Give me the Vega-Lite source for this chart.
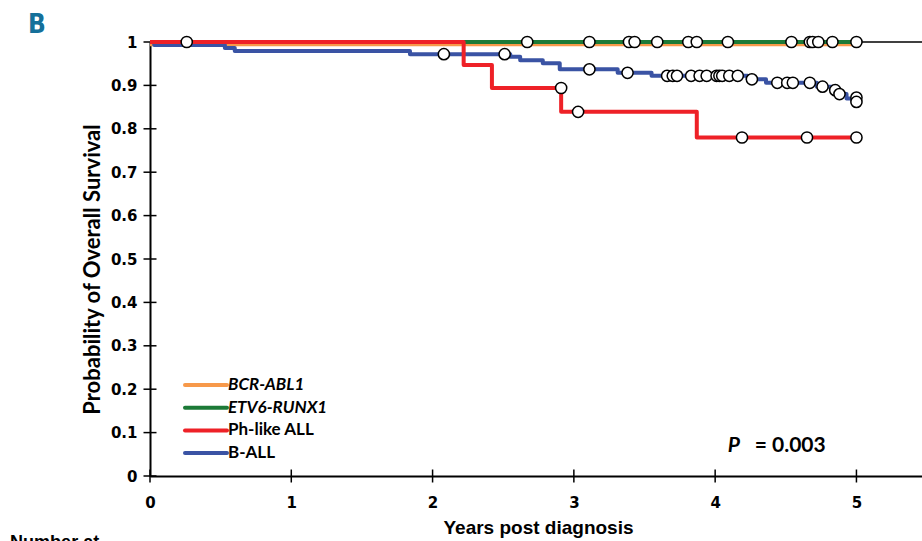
{
  "$schema": "https://vega.github.io/schema/vega-lite/v6.json",
  "autosize": {"type": "none"},
  "padding": {"left": 150, "top": 42, "right": 0, "bottom": 65},
  "width": 772,
  "height": 434,
  "background": "white",
  "title": {"text": "B", "anchor": "start", "frame": "group", "dx": -122, "dy": 26, "offset": 0, "baseline": "alphabetic", "font": "DejaVu Sans Condensed, DejaVu Sans", "fontSize": 26, "fontWeight": "bold", "color": "#15709a"},
  "config": {"view": {"stroke": null}, "font": "Lato"},
  "datasets": {
    "curves": [
      {"group": "BCR-ABL1", "t": 0, "s": 0.995},
      {"group": "BCR-ABL1", "t": 5.0, "s": 0.995},
      {"group": "ETV6-RUNX1", "t": 0, "s": 1},
      {"group": "ETV6-RUNX1", "t": 5.0, "s": 1},
      {"group": "B-ALL", "t": 0, "s": 1},
      {"group": "B-ALL", "t": 0.03, "s": 0.993},
      {"group": "B-ALL", "t": 0.53, "s": 0.986},
      {"group": "B-ALL", "t": 0.6, "s": 0.979},
      {"group": "B-ALL", "t": 1.84, "s": 0.972},
      {"group": "B-ALL", "t": 2.55, "s": 0.966},
      {"group": "B-ALL", "t": 2.62, "s": 0.958},
      {"group": "B-ALL", "t": 2.78, "s": 0.951},
      {"group": "B-ALL", "t": 2.9, "s": 0.937},
      {"group": "B-ALL", "t": 3.31, "s": 0.929},
      {"group": "B-ALL", "t": 3.55, "s": 0.922},
      {"group": "B-ALL", "t": 4.23, "s": 0.914},
      {"group": "B-ALL", "t": 4.36, "s": 0.906},
      {"group": "B-ALL", "t": 4.72, "s": 0.897},
      {"group": "B-ALL", "t": 4.83, "s": 0.889},
      {"group": "B-ALL", "t": 4.88, "s": 0.88},
      {"group": "B-ALL", "t": 4.93, "s": 0.87},
      {"group": "B-ALL", "t": 5.0, "s": 0.862},
      {"group": "Ph-like ALL", "t": 0, "s": 1},
      {"group": "Ph-like ALL", "t": 2.22, "s": 0.947},
      {"group": "Ph-like ALL", "t": 2.42, "s": 0.894},
      {"group": "Ph-like ALL", "t": 2.91, "s": 0.839},
      {"group": "Ph-like ALL", "t": 3.87, "s": 0.78},
      {"group": "Ph-like ALL", "t": 5.0, "s": 0.78}
    ],
    "censor": [
      {"group": "ETV6-RUNX1", "t": 0.26, "s": 1},
      {"group": "ETV6-RUNX1", "t": 2.67, "s": 1},
      {"group": "ETV6-RUNX1", "t": 3.11, "s": 1},
      {"group": "ETV6-RUNX1", "t": 3.39, "s": 1},
      {"group": "ETV6-RUNX1", "t": 3.43, "s": 1},
      {"group": "ETV6-RUNX1", "t": 3.59, "s": 1},
      {"group": "ETV6-RUNX1", "t": 3.81, "s": 1},
      {"group": "ETV6-RUNX1", "t": 3.87, "s": 1},
      {"group": "ETV6-RUNX1", "t": 4.09, "s": 1},
      {"group": "ETV6-RUNX1", "t": 4.54, "s": 1},
      {"group": "ETV6-RUNX1", "t": 4.67, "s": 1},
      {"group": "ETV6-RUNX1", "t": 4.69, "s": 1},
      {"group": "ETV6-RUNX1", "t": 4.73, "s": 1},
      {"group": "ETV6-RUNX1", "t": 4.83, "s": 1},
      {"group": "ETV6-RUNX1", "t": 5.0, "s": 1},
      {"group": "B-ALL", "t": 2.08, "s": 0.972},
      {"group": "B-ALL", "t": 2.51, "s": 0.972},
      {"group": "B-ALL", "t": 3.11, "s": 0.937},
      {"group": "B-ALL", "t": 3.38, "s": 0.929},
      {"group": "B-ALL", "t": 3.66, "s": 0.922},
      {"group": "B-ALL", "t": 3.7, "s": 0.922},
      {"group": "B-ALL", "t": 3.73, "s": 0.922},
      {"group": "B-ALL", "t": 3.83, "s": 0.922},
      {"group": "B-ALL", "t": 3.89, "s": 0.922},
      {"group": "B-ALL", "t": 3.94, "s": 0.922},
      {"group": "B-ALL", "t": 4.01, "s": 0.922},
      {"group": "B-ALL", "t": 4.03, "s": 0.922},
      {"group": "B-ALL", "t": 4.05, "s": 0.922},
      {"group": "B-ALL", "t": 4.1, "s": 0.922},
      {"group": "B-ALL", "t": 4.16, "s": 0.922},
      {"group": "B-ALL", "t": 4.26, "s": 0.914},
      {"group": "B-ALL", "t": 4.44, "s": 0.906},
      {"group": "B-ALL", "t": 4.51, "s": 0.906},
      {"group": "B-ALL", "t": 4.55, "s": 0.906},
      {"group": "B-ALL", "t": 4.67, "s": 0.906},
      {"group": "B-ALL", "t": 4.76, "s": 0.897},
      {"group": "B-ALL", "t": 4.85, "s": 0.889},
      {"group": "B-ALL", "t": 4.88, "s": 0.88},
      {"group": "B-ALL", "t": 5.0, "s": 0.872},
      {"group": "B-ALL", "t": 5.0, "s": 0.862},
      {"group": "Ph-like ALL", "t": 2.91, "s": 0.894},
      {"group": "Ph-like ALL", "t": 3.03, "s": 0.839},
      {"group": "Ph-like ALL", "t": 4.19, "s": 0.78},
      {"group": "Ph-like ALL", "t": 4.65, "s": 0.78},
      {"group": "Ph-like ALL", "t": 5.0, "s": 0.78}
    ],
    "yticks": [
      {"v": 0}, {"v": 0.1}, {"v": 0.2}, {"v": 0.3}, {"v": 0.4}, {"v": 0.5}, {"v": 0.6}, {"v": 0.7}, {"v": 0.8}, {"v": 0.9}, {"v": 1}
    ],
    "xticks": [
      {"v": 0}, {"v": 1}, {"v": 2}, {"v": 3}, {"v": 4}, {"v": 5}
    ],
    "pSymbol": [
      {"label": "P", "t": 4.09, "s": 0.055}
    ],
    "pValue": [
      {"label": "= 0.003", "t": 4.28, "s": 0.055}
    ],
    "risk": [
      {"label": "Number at", "t": -0.99, "s": -0.134}
    ]
  },
  "layer": [
    {
      "data": {"values": [{"s": 1}]},
      "mark": {"type": "rule", "color": "black", "strokeWidth": 1.5},
      "encoding": {"y": {"field": "s", "type": "quantitative", "scale": {"domain": [0, 1]}}}
    },
    {
      "data": {"name": "yticks"},
      "mark": {"type": "point", "shape": "M-1,0H1", "size": 169, "filled": false, "stroke": "black", "strokeWidth": 1.5, "opacity": 1, "clip": false},
      "encoding": {
        "x": {"datum": 0, "type": "quantitative"},
        "y": {"field": "v", "type": "quantitative"}
      }
    },
    {
      "data": {"name": "xticks"},
      "mark": {"type": "point", "shape": "M0,-1V1", "size": 169, "filled": false, "stroke": "black", "strokeWidth": 1.5, "opacity": 1, "clip": false},
      "encoding": {
        "x": {"field": "v", "type": "quantitative"},
        "y": {"datum": 0, "type": "quantitative"}
      }
    },
    {
      "data": {"name": "curves"},
      "mark": {"type": "line", "interpolate": "step-after", "strokeJoin": "round"},
      "encoding": {
        "x": {
          "field": "t", "type": "quantitative",
          "scale": {"domain": [0, 5.464], "nice": false, "zero": false},
          "axis": {
            "values": [0, 1, 2, 3, 4, 5], "format": "d", "grid": false, "ticks": false, "tickSize": 0,
            "domainColor": "black", "domainWidth": 2,
            "labelFont": "DejaVu Sans", "labelFontWeight": "bold", "labelFontSize": 15, "labelColor": "black",
            "labelPadding": 19, "labelFlush": false,
            "title": "Years post diagnosis", "titleFont": "Liberation Sans", "titleFontSize": 19, "titleFontWeight": "bold", "titleColor": "black",
            "titleX": 388, "titleY": 57, "titleBaseline": "alphabetic", "titleAlign": "center"
          }
        },
        "y": {
          "field": "s", "type": "quantitative",
          "scale": {"domain": [0, 1], "nice": false},
          "axis": {
            "values": [0, 0.1, 0.2, 0.3, 0.4, 0.5, 0.6, 0.7, 0.8, 0.9, 1], "format": ".1~f", "grid": false, "ticks": false, "tickSize": 0,
            "domainColor": "black", "domainWidth": 2,
            "labelFont": "DejaVu Sans", "labelFontWeight": "bold", "labelFontSize": 15, "labelColor": "black",
            "labelPadding": 13, "labelFlush": false,
            "title": "Probability of Overall Survival", "titleFont": "Lato", "titleFontSize": 22, "titleFontWeight": "bold", "titleColor": "black",
            "titleX": -58, "titleY": 227, "titleBaseline": "middle", "titleAlign": "center", "titleAngle": -90
          }
        },
        "color": {
          "field": "group", "type": "nominal",
          "scale": {"domain": ["BCR-ABL1", "ETV6-RUNX1", "Ph-like ALL", "B-ALL"], "range": ["#f7994a", "#1c7a37", "#ee2127", "#3a53a4"]},
          "legend": {
            "title": null, "orient": "none", "legendX": 47, "legendY": 334, "padding": 0,
            "symbolType": "M-3,0H3", "symbolSize": 196, "symbolStrokeWidth": 6,
            "labelFont": "Lato", "labelFontSize": 17, "labelFontWeight": "bold", "labelColor": "black",
            "labelOffset": 13, "rowPadding": 5.7,
            "encode": {
              "symbols": {"update": {"strokeCap": {"value": "round"}}},
              "labels": {"update": {"fontStyle": {"signal": "datum.label === 'BCR-ABL1' || datum.label === 'ETV6-RUNX1' ? 'italic' : 'normal'"}}}
            }
          }
        },
        "strokeWidth": {
          "field": "group", "type": "nominal",
          "scale": {"domain": ["BCR-ABL1", "ETV6-RUNX1", "Ph-like ALL", "B-ALL"], "range": [4, 4, 5.5, 6]},
          "legend": null
        },
        "order": {"field": "t"}
      }
    },
    {
      "data": {"name": "censor"},
      "mark": {"type": "point", "shape": "circle", "filled": true, "fill": "white", "stroke": "black", "strokeWidth": 1.5, "size": 125, "opacity": 1},
      "encoding": {
        "x": {"field": "t", "type": "quantitative"},
        "y": {"field": "s", "type": "quantitative"}
      }
    },
    {
      "data": {"name": "pSymbol"},
      "mark": {"type": "text", "align": "left", "baseline": "alphabetic", "font": "Lato", "fontSize": 21, "fontWeight": "bold", "fontStyle": "italic", "color": "black"},
      "encoding": {
        "x": {"field": "t", "type": "quantitative"},
        "y": {"field": "s", "type": "quantitative"},
        "text": {"field": "label"}
      }
    },
    {
      "data": {"name": "pValue"},
      "mark": {"type": "text", "align": "left", "baseline": "alphabetic", "font": "Lato", "fontSize": 21, "fontWeight": "bold", "color": "black"},
      "encoding": {
        "x": {"field": "t", "type": "quantitative"},
        "y": {"field": "s", "type": "quantitative"},
        "text": {"field": "label"}
      }
    },
    {
      "data": {"name": "risk"},
      "mark": {"type": "text", "align": "left", "baseline": "top", "font": "Liberation Sans", "fontSize": 18, "fontWeight": "bold", "color": "black", "clip": false},
      "encoding": {
        "x": {"field": "t", "type": "quantitative"},
        "y": {"field": "s", "type": "quantitative"},
        "text": {"field": "label"}
      }
    }
  ]
}
